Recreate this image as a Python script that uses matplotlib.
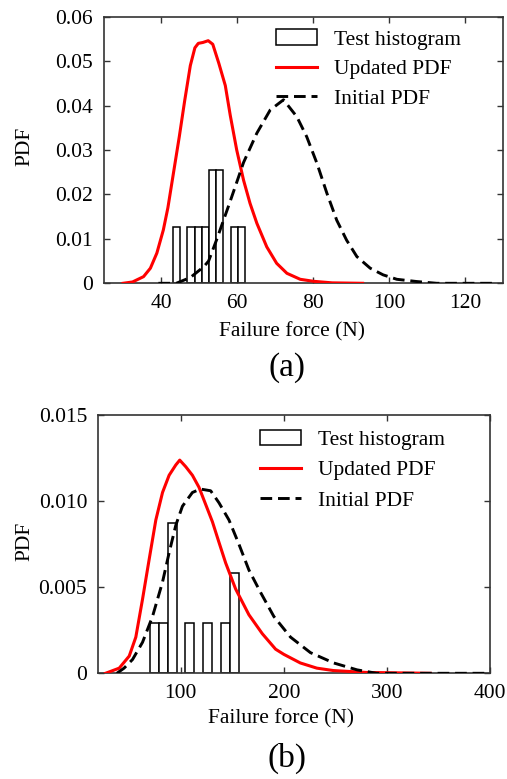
import matplotlib
matplotlib.use("Agg")
import matplotlib.pyplot as plt
import numpy as np

# ---------------- data: panel (a) ----------------
hist_a_edges = [43.1, 45.0, 46.9, 48.8, 50.7, 52.6, 54.5, 56.4, 58.3, 60.2, 62.1]
hist_a_density = [0.0127, 0.0, 0.0127, 0.0127, 0.0127, 0.0255, 0.0255, 0.0, 0.0127, 0.0127]

upd_a_x = [30.0, 32.5, 35.4, 37.2, 38.9, 40.6, 41.8, 43.3, 44.8, 46.2, 47.7, 48.9, 49.8,
           51.0, 52.4, 53.6, 55.2, 56.9, 58.2, 59.9, 61.7, 63.4, 65.2, 67.8, 70.4, 73.1,
           76.6, 80.1, 85.0, 93.0]
upd_a_y = [0.0, 0.0003, 0.0015, 0.0034, 0.0068, 0.0120, 0.0170, 0.0250, 0.0330, 0.0410,
           0.0490, 0.0530, 0.0540, 0.0542, 0.0546, 0.0538, 0.0495, 0.0445, 0.0378, 0.0300,
           0.0232, 0.0180, 0.0135, 0.0082, 0.0045, 0.00225, 0.0009, 0.00045, 0.0001, 0.0]

ini_a_x = [39.3, 44.0, 47.7, 51.2, 52.5, 54.7, 58.2, 61.7, 65.2, 68.7, 72.2, 75.7, 78.3,
           81.0, 83.6, 86.2, 88.8, 91.5, 95.0, 98.4, 102.0, 107.2, 112.5, 128.0]
ini_a_y = [0.0, 0.0, 0.0013, 0.0037, 0.0050, 0.0100, 0.0185, 0.0272, 0.0338, 0.0390,
           0.0413, 0.0375, 0.0330, 0.0270, 0.0203, 0.0142, 0.0097, 0.0060, 0.0034, 0.0019,
           0.0009, 0.0004, 0.0, 0.0]

xticks_a = [40, 60, 80, 100, 120]
yticks_a = [0, 0.01, 0.02, 0.03, 0.04, 0.05, 0.06]
yticklabels_a = ["0", "0.01", "0.02", "0.03", "0.04", "0.05", "0.06"]

# ---------------- data: panel (b) ----------------
hist_b_edges = [70.0, 78.64, 87.28, 95.92, 104.56, 113.2, 121.84, 130.48, 139.12, 147.76, 156.4]
hist_b_density = [0.0029, 0.0029, 0.0087, 0.0, 0.0029, 0.0, 0.0029, 0.0, 0.0029, 0.0058]

upd_b_x = [27.0, 40.3, 50.0, 56.4, 62.9, 69.3, 75.8, 82.3, 88.7, 95.2, 99.0, 104.8, 111.3,
           117.7, 124.2, 130.7, 137.1, 143.6, 153.2, 166.1, 179.1, 192.0, 200.0, 216.0,
           232.0, 248.0, 280.0, 342.0]
upd_b_y = [0.0, 0.0003, 0.0010, 0.0021, 0.0043, 0.0066, 0.0089, 0.0105, 0.0115, 0.0121,
           0.01238, 0.0120, 0.0115, 0.0108, 0.0098, 0.0088, 0.0076, 0.0064, 0.0049, 0.0034,
           0.0023, 0.0014, 0.0011, 0.0006, 0.0003, 0.00016, 0.00005, 0.0]

ini_b_x = [38.0, 45.0, 53.2, 62.9, 72.6, 82.3, 88.7, 95.2, 101.6, 111.3, 119.0, 129.0,
           137.1, 146.8, 156.4, 166.1, 177.4, 190.3, 206.5, 225.8, 248.4, 271.0, 290.0, 400.0]
ini_b_y = [0.0, 0.0003, 0.0008, 0.0018, 0.0033, 0.0053, 0.0070, 0.0086, 0.0097, 0.0105,
           0.0107, 0.0106, 0.0099, 0.0089, 0.0075, 0.0060, 0.0047, 0.0033, 0.0021, 0.0012,
           0.0006, 0.0002, 0.0, 0.0]

xticks_b = [100, 200, 300, 400]
yticks_b = [0, 0.005, 0.010, 0.015]
yticklabels_b = ["0", "0.005", "0.010", "0.015"]

legend_labels = ["Test histogram", "Updated PDF", "Initial PDF"]
xlabel_text = "Failure force (N)"
ylabel_text = "PDF"

# ---------------- style ----------------
plt.rcParams['font.family'] = ['Liberation Serif', 'DejaVu Serif']
FS = 15.5
W, H = 507, 779
fig = plt.figure(figsize=(W / 100, H / 100), dpi=100)


def px_axes(l, t, r, b):
    return [l / W, 1 - b / H, (r - l) / W, (b - t) / H]


def draw_panel(ax, edges, dens, ux, uy, ix, iy, xlim, ylim, xticks, yticks, ytl):
    edges = np.asarray(edges)
    dens = np.asarray(dens)
    widths = np.diff(edges)
    m = dens > 0
    bars = ax.bar(edges[:-1][m], dens[m], width=widths[m], align='edge',
                  facecolor='white', edgecolor='black', linewidth=1.1, zorder=2)
    l1, = ax.plot(ux, uy, color='#ff0000', lw=2.2, zorder=3)
    l2, = ax.plot(ix, iy, color='black', lw=2.1, dashes=(4, 2), zorder=4)
    ax.set_xlim(*xlim)
    ax.set_ylim(*ylim)
    ax.set_xticks(xticks)
    ax.set_yticks(yticks)
    ax.set_yticklabels(ytl)
    ax.tick_params(direction='in', top=True, right=True, length=4, width=1.0,
                   labelsize=FS, color='#333333', pad=8)
    for s in ax.spines.values():
        s.set_color('#333333')
        s.set_linewidth(1.2)
    return bars, l1, l2


leg_kw = dict(loc='upper left', frameon=False, fontsize=FS, borderpad=0, borderaxespad=0,
              handlelength=1.9, handleheight=0.75, handletextpad=0.8)

# panel (a)
axa = fig.add_axes(px_axes(104, 16.7, 503.3, 283.3))
ha = draw_panel(axa, hist_a_edges, hist_a_density, upd_a_x, upd_a_y, ini_a_x, ini_a_y,
                (25, 130), (0, 0.06), xticks_a, yticks_a, yticklabels_a)
axa.legend(ha, legend_labels, bbox_to_anchor=(276 / W, 1 - 29.5 / H),
           bbox_transform=fig.transFigure, labelspacing=0.42, **leg_kw)

# panel (b)
axb = fig.add_axes(px_axes(98.3, 415, 490, 673.3))
hb = draw_panel(axb, hist_b_edges, hist_b_density, upd_b_x, upd_b_y, ini_b_x, ini_b_y,
                (20, 400), (0, 0.015), xticks_b, yticks_b, yticklabels_b)
axb.legend(hb, legend_labels, bbox_to_anchor=(260 / W, 1 - 429.5 / H),
           bbox_transform=fig.transFigure, labelspacing=0.47, **leg_kw)

# axis labels & panel tags (placed in figure pixels)
fig.text(292 / W, 1 - 331.7 / H, xlabel_text, fontsize=FS, ha='center', va='center')
fig.text(281.5 / W, 1 - 718.3 / H, xlabel_text, fontsize=FS, ha='center', va='center')
fig.text(25 / W, 1 - 146 / H, ylabel_text, fontsize=FS, ha='center', va='center', rotation=90)
fig.text(25 / W, 1 - 541.7 / H, ylabel_text, fontsize=FS, ha='center', va='center', rotation=90)
fig.text(286.7 / W, 1 - 368 / H, "(a)", fontsize=24, ha='center', va='center')
fig.text(286.7 / W, 1 - 758 / H, "(b)", fontsize=24, ha='center', va='center')

fig.savefig("out.png", dpi=100)
